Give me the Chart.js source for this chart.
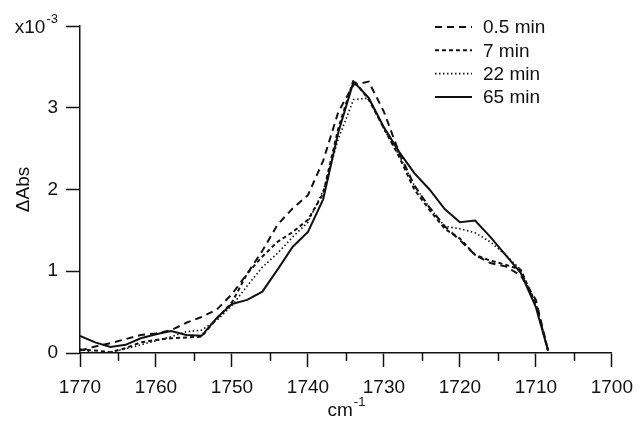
<!DOCTYPE html>
<html>
<head>
<meta charset="utf-8">
<title>Difference spectra</title>
<script src="https://cdn.jsdelivr.net/npm/chart.js@4.4.1/dist/chart.umd.min.js"></script>
<style>
  html, body { margin: 0; padding: 0; background: #fff; }
  #wrap { width: 642px; height: 422px; }
</style>
</head>
<body>
<div id="wrap"><canvas id="spectraChart" width="642" height="422"></canvas></div>
<script>
// ==================== DATA ====================

// wavenumber grid (cm-1), shared by every trace
const wavenumbers = [1770, 1768, 1766, 1764, 1762, 1760, 1758, 1756, 1754, 1752,
                     1750, 1748, 1746, 1744, 1742, 1740, 1738, 1736, 1734, 1732,
                     1730, 1728, 1726, 1724, 1722, 1720, 1718, 1716, 1714, 1712,
                     1710, 1708.4];

// delta absorbance, in units of 1e-3
const abs05min = [0.03, 0.08, 0.12, 0.17, 0.22, 0.24, 0.28, 0.37, 0.44, 0.53,
                  0.72, 0.97, 1.25, 1.57, 1.77, 1.93, 2.35, 2.95, 3.28, 3.32,
                  2.95, 2.45, 2.05, 1.78, 1.55, 1.38, 1.20, 1.10, 1.06, 0.95,
                  0.65, 0.03];
const abs7min = [0.04, 0.03, 0.01, 0.06, 0.13, 0.16, 0.18, 0.19, 0.20, 0.42,
                 0.62, 0.97, 1.18, 1.36, 1.48, 1.63, 1.95, 2.75, 3.34, 3.10,
                 2.75, 2.40, 2.00, 1.75, 1.52, 1.40, 1.20, 1.13, 1.08, 1.02,
                 0.60, 0.03];
const abs22min = [0.05, 0.00, 0.01, 0.05, 0.10, 0.15, 0.20, 0.26, 0.28, 0.40,
                  0.58, 0.82, 1.05, 1.22, 1.42, 1.60, 1.98, 2.62, 3.10, 3.12,
                  2.74, 2.42, 2.05, 1.78, 1.55, 1.52, 1.47, 1.36, 1.20, 1.02,
                  0.58, 0.03];
const abs65min = [0.21, 0.13, 0.075, 0.10, 0.18, 0.23, 0.27, 0.22, 0.21, 0.43,
                  0.60, 0.65, 0.75, 1.02, 1.30, 1.48, 1.88, 2.70, 3.32, 3.12,
                  2.76, 2.46, 2.20, 2.00, 1.76, 1.60, 1.62, 1.42, 1.20, 0.98,
                  0.56, 0.03];

const seriesLabels = ['0.5 min', '7 min', '22 min', '65 min'];

const xMajorTicks = [1770, 1760, 1750, 1740, 1730, 1720, 1710, 1700];
const xMinorTicks = [1765, 1755, 1745, 1735, 1725, 1715, 1705];
const yTicks = [0, 1, 2, 3, 4];

// ==================== HELPERS ====================

const FONT = '"Liberation Sans", Arial, sans-serif';
const INK = '#111';

function toPoints(values) {
    return wavenumbers.map((w, i) => ({ x: w, y: values[i] }));
}

// text with a raised exponent, e.g. x10^-3 or cm^-1
function drawWithExponent(ctx, base, exp, x, y, align) {
    ctx.save();
    ctx.fillStyle = INK;
    ctx.textBaseline = 'alphabetic';
    ctx.font = '19px ' + FONT;
    const wBase = ctx.measureText(base).width;
    ctx.font = '13px ' + FONT;
    const wExp = ctx.measureText(exp).width;
    let left = x;
    if (align === 'right') left = x - wBase - wExp;
    if (align === 'center') left = x - (wBase + wExp) / 2;
    ctx.font = '19px ' + FONT;
    ctx.textAlign = 'left';
    ctx.fillText(base, left, y);
    ctx.font = '13px ' + FONT;
    ctx.fillText(exp, left + wBase + 1, y - 10);
    ctx.restore();
}

// minor x ticks, exponent labels and the legend
const decorPlugin = {
    id: 'decor',
    afterDraw(chart) {
        const ctx = chart.ctx;
        const xs = chart.scales.x;
        const ys = chart.scales.y;
        const axisY = chart.chartArea.bottom;

        ctx.save();
        ctx.strokeStyle = INK;
        ctx.lineWidth = 1.5;
        xMinorTicks.forEach(v => {
            const px = Math.round(xs.getPixelForValue(v)) + 0.5;
            ctx.beginPath();
            ctx.moveTo(px, axisY);
            ctx.lineTo(px, axisY + 8);
            ctx.stroke();
        });
        ctx.restore();

        // multiplier on top tick
        const topY = ys.getPixelForValue(4);
        drawWithExponent(ctx, 'x10', '-3', 57, topY + 7, 'right');

        // x axis title
        drawWithExponent(ctx, 'cm', '-1', (chart.chartArea.left + chart.chartArea.right) / 2, 416, 'center');

        // legend
        ctx.save();
        ctx.font = '19px ' + FONT;
        ctx.fillStyle = INK;
        ctx.textBaseline = 'middle';
        chart.data.datasets.forEach((ds, i) => {
            const y = 27 + i * 23.3;
            ctx.strokeStyle = ds.borderColor;
            ctx.lineWidth = ds.borderWidth;
            ctx.setLineDash(ds.borderDash || []);
            ctx.beginPath();
            ctx.moveTo(435, y);
            ctx.lineTo(472, y);
            ctx.stroke();
            ctx.setLineDash([]);
            ctx.fillText(ds.label, 483, y + 1);
        });
        ctx.restore();
    }
};

// ==================== CHART ====================

const lineStyles = [
    { dash: [7, 5], width: 2 },
    { dash: [4, 3], width: 2 },
    { dash: [1.5, 2.5], width: 1.6 },
    { dash: [], width: 2 }
];
const seriesValues = [abs05min, abs7min, abs22min, abs65min];

new Chart(document.getElementById('spectraChart'), {
    type: 'line',
    data: {
        datasets: seriesValues.map((vals, i) => ({
            label: seriesLabels[i],
            data: toPoints(vals),
            borderColor: INK,
            borderWidth: lineStyles[i].width,
            borderDash: lineStyles[i].dash,
            pointRadius: 0,
            tension: 0,
            fill: false
        }))
    },
    options: {
        responsive: false,
        animation: false,
        devicePixelRatio: 1,
        layout: { padding: { top: 26, right: 25, left: 0, bottom: 0 } },
        plugins: {
            legend: { display: false },
            tooltip: { enabled: false }
        },
        scales: {
            x: {
                type: 'linear',
                reverse: true,
                min: 1700,
                max: 1770,
                afterBuildTicks: s => { s.ticks = xMajorTicks.map(v => ({ value: v })); },
                afterFit: s => { s.height = 69; },
                border: { color: INK, width: 1.5 },
                grid: { drawOnChartArea: false, tickLength: 14, tickColor: INK, tickWidth: 1.5 },
                ticks: {
                    color: INK,
                    padding: 9,
                    maxRotation: 0,
                    autoSkip: false,
                    font: { family: FONT, size: 19 },
                    callback: v => String(v)
                }
            },
            y: {
                min: 0,
                max: 4,
                afterBuildTicks: s => { s.ticks = yTicks.map(v => ({ value: v })); },
                afterFit: s => { s.width = 80; },
                border: { color: INK, width: 1.5 },
                grid: { drawOnChartArea: false, tickLength: 14, tickColor: INK, tickWidth: 1.5 },
                ticks: {
                    color: INK,
                    padding: 8,
                    font: { family: FONT, size: 19 },
                    callback: v => (v === 4 ? '' : String(v))
                },
                title: {
                    display: true,
                    text: 'ΔAbs',
                    color: INK,
                    font: { family: FONT, size: 19 },
                    padding: { top: 12, bottom: 0 }
                }
            }
        }
    },
    plugins: [decorPlugin]
});
</script>
</body>
</html>
